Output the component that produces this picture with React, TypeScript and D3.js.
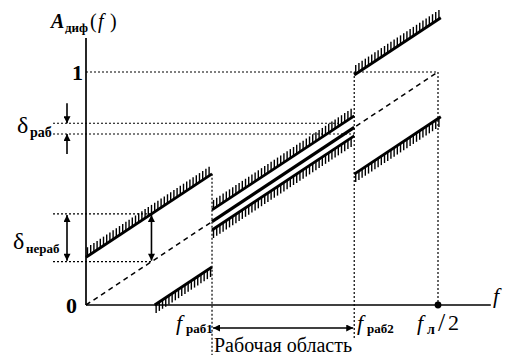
import React from 'react';
import * as d3 from 'd3';

// Frequencies (normalised so that f_л/2 = 0.5)
const F_RAB1 = 0.179;
const F_RAB2 = 0.381;
const F_HALF = 0.5;
const F_AXIS_MAX = 0.575;
const A_AXIS_MAX = 1.146;
const A_ONE = 1;
const F_RIGHT_END = 0.504;
const F_DELTA_ARROW = 0.093;

// Tolerance bands around ideal A(f) = f / F_HALF
const NONWORK_UP = [0.205, 0.225];
const NONWORK_DOWN = [0.195, 0.2];
const WORK_UP = 0.05;
const WORK_DOWN = 0.036;
const DELTA_RAB_LEVELS = [0.78, 0.734];

const ideal = (f: number) => f / F_HALF;

type Seg = { f0: number; f1: number; off: number; side: 'up' | 'down' | 'none' };
const segments: Seg[] = [
  { f0: 0, f1: F_RAB1, off: NONWORK_UP[0], side: 'up' },
  { f0: NONWORK_DOWN[0] * F_HALF, f1: F_RAB1, off: -NONWORK_DOWN[0], side: 'down' },
  { f0: F_RAB1, f1: F_RAB2, off: WORK_UP, side: 'up' },
  { f0: F_RAB1, f1: F_RAB2, off: -WORK_DOWN, side: 'down' },
  { f0: F_RAB1, f1: F_RAB2, off: 0, side: 'none' },
  { f0: F_RAB2, f1: F_RIGHT_END, off: NONWORK_UP[1], side: 'up' },
  { f0: F_RAB2, f1: F_RIGHT_END, off: -NONWORK_DOWN[1], side: 'down' },
];

const x = d3.scaleLinear().domain([0, F_HALF]).range([86, 438]);
const y = d3.scaleLinear().domain([0, 1]).range([305, 72]);

const SERIF = '"Liberation Serif", "DejaVu Serif", serif';

export default function App() {
  const line = d3.line<[number, number]>().x(d => x(d[0])).y(d => y(d[1]));
  const hatch = (s: Seg) => {
    if (s.side === 'none') return null;
    const x0 = x(s.f0), x1 = x(s.f1);
    const ticks: JSX.Element[] = [];
    const step = 3.2;
    for (let px = x0 + 1.5; px <= x1 - 0.5; px += step) {
      const f = x.invert(px);
      const py = y(ideal(f) + s.off);
      const dy = s.side === 'up' ? -9 : 9;
      ticks.push(<line key={px} x1={px} y1={py} x2={px} y2={py + dy} stroke="#000" strokeWidth={1.4} />);
    }
    return ticks;
  };
  const dotted = { stroke: '#000', strokeWidth: 1.2, strokeDasharray: '2,2' };
  const y0 = y(0);
  const deltaTop = y(ideal(F_DELTA_ARROW) + NONWORK_UP[0]);
  const deltaBot = y(ideal(F_DELTA_ARROW));
  const xArrow = x(F_DELTA_ARROW);

  return (
    <svg width={506} height={355} style={{ position: 'absolute', left: 0, top: 0, background: '#fff' }}>
      <defs>
        <marker id="ah" viewBox="0 0 10 10" refX="10" refY="5" markerWidth="10" markerHeight="7" markerUnits="userSpaceOnUse" orient="auto-start-reverse">
          <path d="M0,0 L10,5 L0,10 z" fill="#000" />
        </marker>
      </defs>
      {/* axes */}
      <line x1={x(0)} y1={y(A_AXIS_MAX)} x2={x(0)} y2={y0} stroke="#000" strokeWidth={1.7} />
      <line x1={x(0)} y1={y0} x2={x(F_AXIS_MAX)} y2={y0} stroke="#000" strokeWidth={1.7} />

      {/* dotted guides */}
      <line x1={x(0)} y1={y(A_ONE)} x2={x(F_HALF)} y2={y(A_ONE)} {...dotted} />
      <line x1={x(F_HALF)} y1={y(A_ONE)} x2={x(F_HALF)} y2={y0} {...dotted} />
      <line x1={x(F_RAB2)} y1={y(A_ONE)} x2={x(F_RAB2)} y2={340} {...dotted} />
      <line x1={x(F_RAB1)} y1={y(ideal(F_RAB1) + NONWORK_UP[0])} x2={x(F_RAB1)} y2={355} {...dotted} />
      {DELTA_RAB_LEVELS.map((a, i) => (
        <line key={i} x1={53} y1={y(a)} x2={i === 0 ? 345 : x(F_RAB2)} y2={y(a)} {...dotted} />
      ))}
      <line x1={53} y1={deltaTop} x2={xArrow} y2={deltaTop} {...dotted} />
      <line x1={53} y1={deltaBot} x2={xArrow} y2={deltaBot} {...dotted} />

      {/* ideal dashed line */}
      <path d={line([[0, 0], [F_HALF, ideal(F_HALF)]])!} stroke="#000" strokeWidth={1.5} strokeDasharray="5,4" fill="none" />

      {/* boundary lines */}
      {segments.map((s, i) => (
        <g key={i}>
          <path d={line([[s.f0, ideal(s.f0) + s.off], [s.f1, ideal(s.f1) + s.off]])!} stroke="#000" strokeWidth={s.side === 'none' ? 3.2 : 2.8} fill="none" />
          {hatch(s)}
        </g>
      ))}

      {/* delta arrows */}
      <line x1={67} y1={deltaTop + 1} x2={67} y2={deltaBot - 1} stroke="#000" strokeWidth={1.6} markerStart="url(#ah)" markerEnd="url(#ah)" />
      <line x1={xArrow} y1={deltaTop + 1} x2={xArrow} y2={deltaBot - 1} stroke="#000" strokeWidth={1.6} markerStart="url(#ah)" markerEnd="url(#ah)" />
      <line x1={67} y1={y(DELTA_RAB_LEVELS[0]) - 20} x2={67} y2={y(DELTA_RAB_LEVELS[0])} stroke="#000" strokeWidth={1.6} markerEnd="url(#ah)" />
      <line x1={67} y1={y(DELTA_RAB_LEVELS[1]) + 20} x2={67} y2={y(DELTA_RAB_LEVELS[1])} stroke="#000" strokeWidth={1.6} markerEnd="url(#ah)" />

      {/* working region arrow */}
      <line x1={x(F_RAB1) + 1} y1={328} x2={x(F_RAB2) - 1} y2={328} stroke="#000" strokeWidth={1.6} markerStart="url(#ah)" markerEnd="url(#ah)" />

      {/* dot at f_л/2 */}
      <circle cx={x(F_HALF)} cy={y0} r={3.4} fill="#000" />

      {/* labels */}
      <g fontFamily={SERIF} fill="#000">
        <text x={51} y={28} fontSize={20} fontStyle="italic" fontWeight="bold">A</text>
        <text x={65} y={32} fontSize={13} fontWeight="bold">диф</text>
        <text x={90} y={28} fontSize={20}>(</text>
        <text x={98} y={28} fontSize={20} fontStyle="italic">f</text>
        <text x={110} y={28} fontSize={20}>)</text>

        <text x={72} y={80} fontSize={22} fontWeight="bold">1</text>
        <text x={66} y={313} fontSize={22} fontWeight="bold">0</text>

        <text x={17} y={133} fontSize={24}>δ</text>
        <text x={30} y={137} fontSize={14} fontWeight="bold">раб</text>
        <text x={13} y={249} fontSize={24}>δ</text>
        <text x={26} y={253} fontSize={13} fontWeight="bold">нераб</text>

        <text x={176} y={330} fontSize={22} fontStyle="italic">f</text>
        <text x={186} y={333} fontSize={13} fontWeight="bold">раб1</text>
        <text x={357} y={330} fontSize={22} fontStyle="italic">f</text>
        <text x={367} y={333} fontSize={13} fontWeight="bold">раб2</text>
        <text x={417} y={330} fontSize={22} fontStyle="italic">f</text>
        <text x={427} y={334} fontSize={14} fontWeight="bold">л</text>
        <text x={438} y={331} fontSize={26}>/</text>
        <text x={448} y={330} fontSize={22}>2</text>
        <text x={493} y={303} fontSize={22} fontStyle="italic">f</text>

        <text x={283} y={352} fontSize={20} textAnchor="middle">Рабочая область</text>
      </g>
    </svg>
  );
}
